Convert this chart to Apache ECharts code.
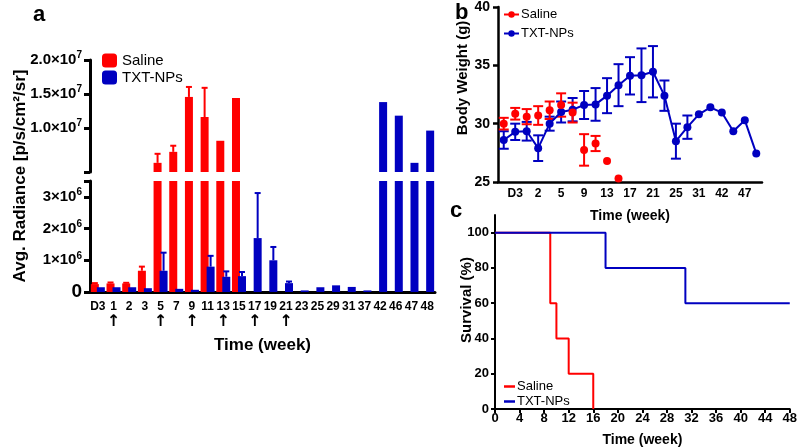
<!DOCTYPE html>
<html><head><meta charset="utf-8">
<script src="https://cdn.jsdelivr.net/npm/echarts@6/dist/echarts.min.js"></script>
<style>html,body{margin:0;padding:0;background:#fff}#c{width:800px;height:448px}</style>
</head><body><div id="c"></div>
<script>
// ---------- Panel a : bioluminescence ----------
const catsA = ['D3','1','2','3','5','7','9','11','13','15','17','19','21','23','25','29','31','37','42','46','47','48'];
const salineA = [250000, 270000, 270000, 670000, 4850000, 6470000, 14560000, 11600000, 8100000, 14400000, null, null, null, null, null, null, null, null, null, null, null, null];
const salineErrA = [30000, 30000, 20000, 130000, 1330000, 900000, 1470000, 4300000, null, null, null, null, null, null, null, null, null, null, null, null, null, null];
const txtA = [150000, 150000, 150000, 120000, 670000, 100000, 70000, 800000, 480000, 500000, 1700000, 1000000, 280000, 50000, 150000, 210000, 160000, 50000, 13800000, 11800000, 4850000, 9600000];
const txtErrA = [null, null, null, null, 570000, null, null, 340000, 170000, 130000, 1420000, 420000, 50000, null, null, null, null, null, null, null, null, null];
const arrowWeeks = ['1','5','9','13','17','21'];
const upperLabels = [10000000, 15000000, 20000000];
const upperTicks = [3500000, 10000000, 15000000, 20000000];
const lowerLabels = [0, 1000000, 2000000, 3000000];
const lowerTicks = [0, 1000000, 2000000, 3000000, 3500000];
const breakValue = 3500000;
const upperMax = 20000000;

// ---------- Panel b : body weight ----------
const catsB = ['D0','D3','1','2','3','5','7','9','11','13','15','17','19','21','23','25','29','31','37','42','46','47','48'];
const salineB = [30.0, 30.85, 30.6, 30.7, 31.15, 31.6, 30.95, 27.75, 28.3, 26.8, 25.3, null, null, null, null, null, null, null, null, null, null, null, null];
const salineErrB = [0.5, 0.5, 0.65, 0.8, 0.75, 1.0, 0.85, 1.35, 0.65, null, null, null, null, null, null, null, null, null, null, null, null, null, null];
const txtB = [28.6, 29.3, 29.35, 27.9, 30.0, 31.0, 31.2, 31.6, 31.65, 32.4, 33.3, 34.1, 34.15, 34.45, 32.4, 28.5, 29.7, 30.8, 31.4, 30.95, 29.35, 30.3, 27.45];
const txtErrB = [0.75, 0.7, 0.8, 1.1, 0.6, 0.9, 1.0, 1.2, 1.4, 1.5, 1.8, 1.6, 2.3, 2.2, 1.3, 1.5, 1.0, null, null, null, null, null, null];

// ---------- Panel c : survival ----------
const survWeekSaline = [0, 9, 10, 12, 16];
const survPctSaline = [100, 60, 40, 20, 0];
const survWeekTxt = [0, 18, 31, 48];
const survPctTxt = [100, 80, 60, 60];
const survTicks = [0, 20, 40, 60, 80, 100];

const RED = '#ff0000', BLUE = '#0000c0';
const FF = '"Liberation Sans", Arial, Helvetica, sans-serif';

function upErr(vals, errs) {
  const out = [];
  vals.forEach((v, i) => { if (errs[i] != null && v != null) out.push([i, v, v + errs[i]]); });
  return out;
}
function symErr(vals, errs) {
  const out = [];
  vals.forEach((v, i) => { if (errs[i] != null && v != null) out.push([i, v - errs[i], v + errs[i]]); });
  return out;
}
function errRender(offset, color, cap, bothCaps) {
  return function (params, api) {
    const i = api.value(0);
    const lo = api.coord([i, api.value(1)]);
    const hi = api.coord([i, api.value(2)]);
    const x = lo[0] + offset;
    const st = { stroke: color, lineWidth: 2 };
    const ch = [
      { type: 'line', shape: { x1: x, y1: lo[1], x2: x, y2: hi[1] }, style: st },
      { type: 'line', shape: { x1: x - cap / 2, y1: hi[1], x2: x + cap / 2, y2: hi[1] }, style: st }
    ];
    if (bothCaps) ch.push({ type: 'line', shape: { x1: x - cap / 2, y1: lo[1], x2: x + cap / 2, y2: lo[1] }, style: st });
    return { type: 'group', children: ch };
  };
}
function sciUpper(v) {
  const e = Math.floor(Math.log10(v) + 1e-9);
  const m = v / Math.pow(10, e);
  return '{m|' + m.toFixed(1) + '×10}{s|' + e + '}';
}
function sciLower(v) {
  if (v === 0) return '{z|0}';
  return '{m|' + Math.round(v / 1e6) + '×10}{s|6}';
}
const richY = {
  m: { fontSize: 15, fontWeight: 'bold', color: '#000', fontFamily: FF },
  s: { fontSize: 10, fontWeight: 'bold', color: '#000', fontFamily: FF, padding: [0, 0, 9, 0] },
  z: { fontSize: 19, fontWeight: 'bold', color: '#000', fontFamily: FF }
};
const nameFmt = n => n.split('_')[0];

const chart = echarts.init(document.getElementById('c'), null, { renderer: 'canvas' });
const oddIdx = (idx) => idx % 2 === 1;

const option = {
  animation: false,
  backgroundColor: '#fff',
  textStyle: { fontFamily: FF },
  grid: [
    { left: 90, top: 60, width: 345, height: 112 },
    { left: 90, top: 181, width: 345, height: 111 },
    { left: 498, top: 4, width: 264, height: 178 },
    { left: 495, top: 215, width: 297, height: 197 }
  ],
  xAxis: [
    { gridIndex: 0, type: 'category', data: catsA, show: false },
    { gridIndex: 1, type: 'category', data: catsA,
      axisLine: { lineStyle: { color: '#000', width: 3 } },
      axisTick: { alignWithLabel: true, length: 5, lineStyle: { color: '#000', width: 3 } },
      axisLabel: { interval: 0, margin: 8, color: '#000', fontSize: 12, fontWeight: 'bold', fontFamily: FF, lineHeight: 14,
        formatter: v => arrowWeeks.indexOf(v) >= 0 ? v + '\n{ar|↑}' : v,
        rich: { ar: { fontSize: 16, fontWeight: 'bold', fontFamily: '"DejaVu Sans"', color: '#000', lineHeight: 16 } } },
      name: 'Time (week)', nameLocation: 'middle', nameGap: 45,
      nameTextStyle: { fontSize: 17, fontWeight: 'bold', color: '#000', fontFamily: FF } },
    { gridIndex: 2, type: 'category', data: catsB, boundaryGap: true,
      axisLine: { lineStyle: { color: '#000', width: 2.5 } },
      axisTick: { alignWithLabel: true, interval: oddIdx, length: 4, lineStyle: { color: '#000', width: 2.5 } },
      axisLabel: { interval: oddIdx, margin: 6, color: '#000', fontSize: 12, fontWeight: 'bold', fontFamily: FF },
      name: 'Time (week)', nameLocation: 'middle', nameGap: 27,
      nameTextStyle: { fontSize: 14, fontWeight: 'bold', color: '#000', fontFamily: FF } },
    { gridIndex: 3, type: 'value', min: 0, max: 48, interval: 4,
      splitLine: { show: false },
      axisLine: { lineStyle: { color: '#000', width: 2 } },
      axisTick: { length: 4, lineStyle: { color: '#000', width: 2 } },
      axisLabel: { margin: 3, color: '#000', fontSize: 13, fontWeight: 'bold', fontFamily: FF },
      name: 'Time (week)', nameLocation: 'middle', nameGap: 24,
      nameTextStyle: { fontSize: 14, fontWeight: 'bold', color: '#000', fontFamily: FF } }
  ],
  yAxis: [
    { gridIndex: 0, type: 'value', min: breakValue, max: upperMax, splitLine: { show: false },
      axisLine: { show: true, lineStyle: { color: '#000', width: 3 } },
      axisTick: { show: true, length: 6, customValues: upperTicks, lineStyle: { color: '#000', width: 3 } },
      axisLabel: { customValues: upperLabels, margin: 8, formatter: sciUpper, rich: richY } },
    { gridIndex: 1, type: 'value', min: 0, max: breakValue, splitLine: { show: false },
      axisLine: { show: true, lineStyle: { color: '#000', width: 3 } },
      axisTick: { show: true, length: 6, customValues: lowerTicks, lineStyle: { color: '#000', width: 3 } },
      axisLabel: { customValues: lowerLabels, margin: 8, formatter: sciLower, rich: richY } },
    { gridIndex: 2, type: 'value', min: 25, max: 40, interval: 5, splitLine: { show: false },
      axisLine: { show: true, lineStyle: { color: '#000', width: 2.5 } },
      axisTick: { show: true, length: 5, lineStyle: { color: '#000', width: 2.5 } },
      axisLabel: { margin: 8, color: '#000', fontSize: 14, fontWeight: 'bold', fontFamily: FF } },
    { gridIndex: 3, type: 'value', min: 0, max: 110, splitLine: { show: false },
      axisLine: { show: true, lineStyle: { color: '#000', width: 2 } },
      axisTick: { show: true, length: 4, customValues: survTicks, lineStyle: { color: '#000', width: 2 } },
      axisLabel: { customValues: survTicks, margin: 6, color: '#000', fontSize: 13, fontWeight: 'bold', fontFamily: FF } }
  ],
  legend: [
    { left: 102, top: 53, orient: 'vertical', itemWidth: 15, itemHeight: 14, itemGap: 2, icon: 'roundRect',
      data: ['Saline_a', 'TXT-NPs_a'], formatter: nameFmt, padding: 0, selectedMode: false,
      textStyle: { fontSize: 15, color: '#000', fontFamily: FF, padding: [0, 0, 0, 0] } },
    { left: 503, top: 8, orient: 'vertical', itemWidth: 15, itemHeight: 8, itemGap: 6,
      data: [{ name: 'Saline_b', itemStyle: { opacity: 1 }, lineStyle: { opacity: 1, width: 2 } }, 'TXT-NPs_b'],
      formatter: nameFmt, padding: 0, selectedMode: false,
      textStyle: { fontSize: 13, color: '#000', fontFamily: FF, padding: [0, 0, 0, -3] } },
    { left: 504, top: 379, orient: 'vertical', itemWidth: 11, itemHeight: 2.5, itemGap: 0, icon: 'rect',
      data: ['Saline_c', 'TXT-NPs_c'], formatter: nameFmt, padding: 0, selectedMode: false,
      textStyle: { fontSize: 13, color: '#000', fontFamily: FF, padding: [0, 0, 0, -3], lineHeight: 15 } }
  ],
  graphic: [
    { type: 'text', left: 33, top: 4, style: { text: 'a', font: 'bold 22px ' + FF, fill: '#000' } },
    { type: 'text', left: 455, top: 2, style: { text: 'b', font: 'bold 22px ' + FF, fill: '#000' } },
    { type: 'text', left: 450, top: 200, style: { text: 'c', font: 'bold 22px ' + FF, fill: '#000' } },
    { type: 'text', x: 20, y: 176, rotation: Math.PI / 2,
      style: { text: 'Avg. Radiance [p/s/cm²/sr]', font: 'bold 17px ' + FF, fill: '#000', align: 'center', verticalAlign: 'middle' } },
    { type: 'text', x: 463, y: 78, rotation: Math.PI / 2,
      style: { text: 'Body Weight (g)', font: 'bold 15px ' + FF, fill: '#000', align: 'center', verticalAlign: 'middle' } },
    { type: 'text', x: 467, y: 300, rotation: Math.PI / 2,
      style: { text: 'Survival (%)', font: 'bold 15px ' + FF, fill: '#000', align: 'center', verticalAlign: 'middle' } }
  ],
  series: [
    // panel a upper
    { name: 'Saline_a', type: 'bar', xAxisIndex: 0, yAxisIndex: 0, data: salineA, barWidth: 8, barGap: '-25%', itemStyle: { color: RED } },
    { name: 'TXT-NPs_a', type: 'bar', xAxisIndex: 0, yAxisIndex: 0, data: txtA, barWidth: 8, barGap: '-25%', itemStyle: { color: BLUE } },
    { type: 'custom', xAxisIndex: 0, yAxisIndex: 0, clip: true, encode: { x: 0, y: [1, 2] }, data: upErr(salineA, salineErrA), renderItem: errRender(-3, RED, 6, false), z: 3 },
    { type: 'custom', xAxisIndex: 0, yAxisIndex: 0, clip: true, encode: { x: 0, y: [1, 2] }, data: upErr(txtA, txtErrA), renderItem: errRender(3, BLUE, 6, false), z: 3 },
    // panel a lower
    { name: 'Saline_a', type: 'bar', xAxisIndex: 1, yAxisIndex: 1, data: salineA, barWidth: 8, barGap: '-25%', itemStyle: { color: RED } },
    { name: 'TXT-NPs_a', type: 'bar', xAxisIndex: 1, yAxisIndex: 1, data: txtA, barWidth: 8, barGap: '-25%', itemStyle: { color: BLUE } },
    { type: 'custom', xAxisIndex: 1, yAxisIndex: 1, clip: true, encode: { x: 0, y: [1, 2] }, data: upErr(salineA, salineErrA), renderItem: errRender(-3, RED, 6, false), z: 3 },
    { type: 'custom', xAxisIndex: 1, yAxisIndex: 1, clip: true, encode: { x: 0, y: [1, 2] }, data: upErr(txtA, txtErrA), renderItem: errRender(3, BLUE, 6, false), z: 3 },
    // panel b
    { type: 'custom', xAxisIndex: 2, yAxisIndex: 2, encode: { x: 0, y: [1, 2] }, data: symErr(txtB, txtErrB), renderItem: errRender(0, BLUE, 10, true), z: 2 },
    { type: 'custom', xAxisIndex: 2, yAxisIndex: 2, encode: { x: 0, y: [1, 2] }, data: symErr(salineB, salineErrB), renderItem: errRender(0, RED, 10, true), z: 2 },
    { name: 'TXT-NPs_b', type: 'line', xAxisIndex: 2, yAxisIndex: 2, data: txtB, symbol: 'circle', symbolSize: 8, showAllSymbol: true,
      itemStyle: { color: BLUE }, lineStyle: { color: BLUE, width: 2 }, z: 3 },
    { name: 'Saline_b', type: 'line', xAxisIndex: 2, yAxisIndex: 2, data: salineB, symbol: 'circle', symbolSize: 8, showAllSymbol: true,
      itemStyle: { color: RED }, lineStyle: { color: RED, width: 2, opacity: 0 }, z: 4 },
    // panel c
    { name: 'Saline_c', type: 'line', xAxisIndex: 3, yAxisIndex: 3, step: 'end', symbol: 'none',
      data: survWeekSaline.map((w, i) => [w, survPctSaline[i]]), lineStyle: { color: RED, width: 2 }, itemStyle: { color: RED }, z: 3 },
    { name: 'TXT-NPs_c', type: 'line', xAxisIndex: 3, yAxisIndex: 3, step: 'end', symbol: 'none',
      data: survWeekTxt.map((w, i) => [w, survPctTxt[i]]), lineStyle: { color: BLUE, width: 2 }, itemStyle: { color: BLUE }, z: 3 }
  ]
};
chart.setOption(option);
</script>
</body></html>
